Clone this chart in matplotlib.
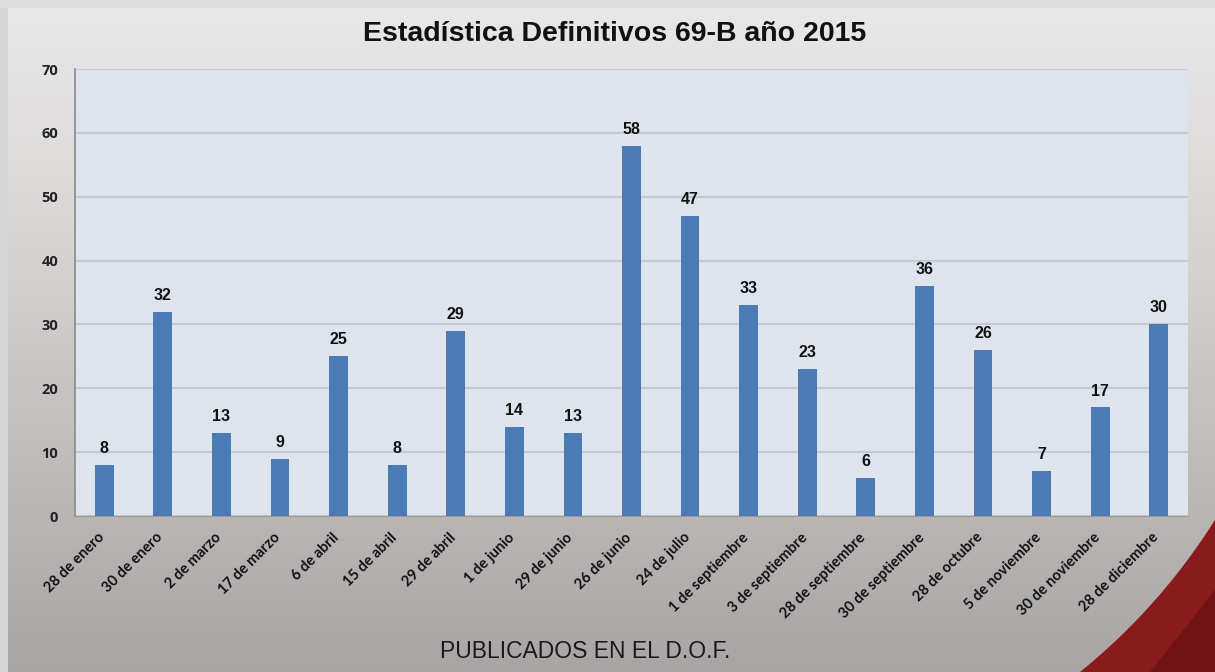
import numpy as np
import matplotlib
matplotlib.use('Agg')
import matplotlib.pyplot as plt
import matplotlib.transforms as mtransforms
from matplotlib.patches import Polygon, Rectangle

fechas = ["28 de enero", "30 de enero", "2 de marzo", "17 de marzo", "6 de abril",
          "15 de abril", "29 de abril", "1 de junio", "29 de junio", "26 de junio",
          "24 de julio", "1 de septiembre", "3 de septiembre", "28 de septiembre",
          "30 de septiembre", "28 de octubre", "5 de noviembre", "30 de noviembre",
          "28 de diciembre"]
definitivos = [8, 32, 13, 9, 25, 8, 29, 14, 13, 58, 47, 33, 23, 6, 36, 26, 7, 17, 30]
y_ticks = [0, 10, 20, 30, 40, 50, 60, 70]

W, H = 1215, 672
fig = plt.figure(figsize=(W / 100, H / 100), dpi=100)

# fondo con degradado
bg = fig.add_axes([0, 0, 1, 1], zorder=-10)
bg.set_xlim(0, W)
bg.set_ylim(H, 0)
bg.axis('off')
grad = np.linspace(0, 1, 256).reshape(-1, 1)
top = np.array([0.91, 0.91, 0.91])
mid = np.array([0.85, 0.83, 0.83])
bot = np.array([0.66, 0.645, 0.645])
img = np.where(grad < 0.35, top + (mid - top) * (grad / 0.35),
               mid + (bot - mid) * ((grad - 0.35) / 0.65))
img = img.reshape(256, 1, 3)
bg.imshow(img, extent=[8, W, H, 8], aspect='auto')
bg.add_patch(Rectangle((0, 0), 8, H, color='#d6d6d6', lw=0))
bg.add_patch(Rectangle((0, 0), W, 8, color='#dcdcdc', lw=0))

# franja roja abajo a la derecha (arco)
cx, cy, r = 690, 190, 620
a0 = np.arcsin((H - cy) / r)
a1 = np.arccos((W - cx) / r)
ang = np.linspace(a0, a1, 60)
xs = cx + r * np.cos(ang)
ys = cy + r * np.sin(ang)
pts = list(zip(xs, ys)) + [(W, H)]
bg.add_patch(Polygon(pts, closed=True, color='#8a1b1d', lw=0))
bg.add_patch(Polygon([(1150, 672), (1215, 590), (1215, 672)], closed=True,
                     color='#5e0b0d', lw=0, alpha=0.55))

ax = fig.add_axes([75 / W, 1 - 516 / H, (1188 - 75) / W, (516 - 69) / H])
ax.set_facecolor('#dde4ee')
x = np.arange(len(fechas))
ax.bar(x, definitivos, width=0.32, color='#4a7bb5', zorder=3)
for xi, v in zip(x, definitivos):
    ax.text(xi, v + 1.4, str(v), ha='center', va='bottom', fontsize=11.5,
            fontweight='bold', family='Liberation Sans', color='#111111')

ax.set_xlim(-0.5, len(fechas) - 0.5)
ax.set_ylim(0, 70)
ax.set_yticks(y_ticks)
ax.set_yticklabels([str(v) for v in y_ticks], fontsize=10.5, fontweight='bold',
                   family='Open Sans', color='#222222')
ax.yaxis.grid(True, color='#c5cad2', linewidth=1.5, zorder=0)
ax.set_xticks(x)
ax.set_xticklabels(fechas, rotation=45, ha='right', va='top', rotation_mode='anchor',
                   fontsize=10.5, fontweight='bold', family='Lato', color='#111111')
ax.tick_params(axis='y', length=0, pad=12)
ax.tick_params(axis='x', length=0, pad=6)
offset = mtransforms.ScaledTranslation(-7 / 100, -6 / 100, fig.dpi_scale_trans)
for lbl in ax.get_xticklabels():
    lbl.set_transform(lbl.get_transform() + offset)
for s in ['top', 'right']:
    ax.spines[s].set_visible(False)
ax.spines['left'].set_color('#8a8a8a')
ax.spines['bottom'].set_color('#9a9a9a')
ax.spines['left'].set_linewidth(1.2)

fig.text(615 / W, 1 - 34 / H, "Estadística Definitivos 69-B año 2015", ha='center',
         va='center', fontsize=20.5, fontweight='bold', family='Liberation Sans',
         color='#111111')
fig.text(585 / W, 1 - 652 / H, "PUBLICADOS EN EL D.O.F.", ha='center', va='center',
         fontsize=16.5, family='Liberation Sans', color='#1a1a1a')

fig.savefig('out.png', dpi=100)
